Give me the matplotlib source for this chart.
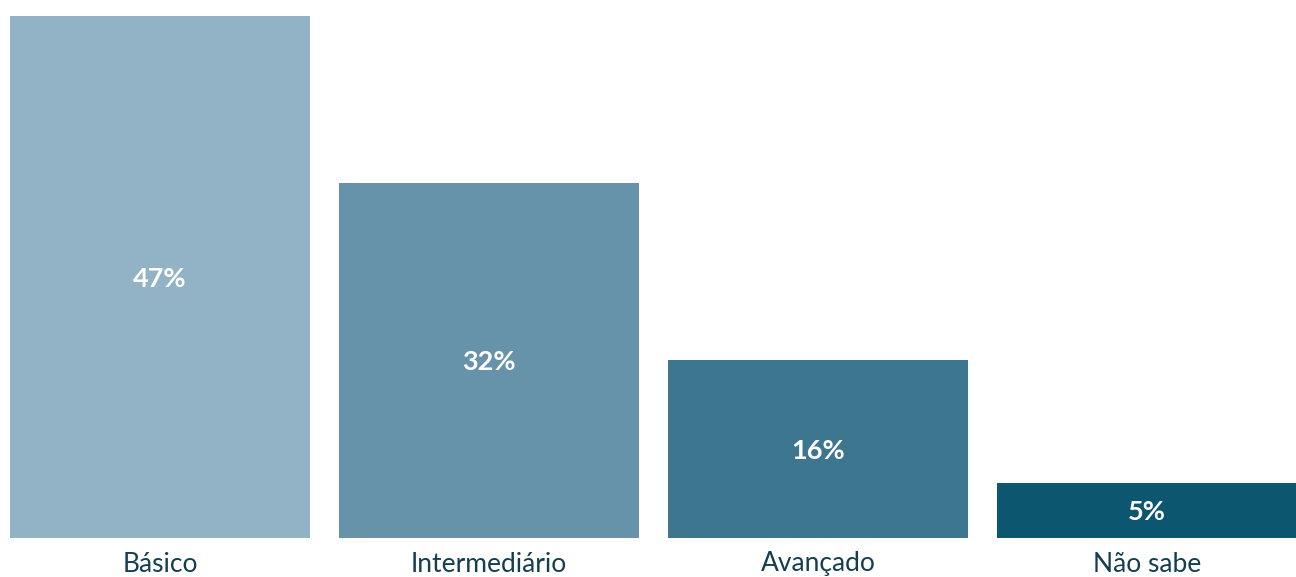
import matplotlib
matplotlib.use('Agg')
import matplotlib.pyplot as plt

# Dados do grafico
categorias = ['Básico', 'Intermediário', 'Avançado', 'Não sabe']
valores = [47, 32, 16, 5]
cores = ['#92B3C6', '#6693AA', '#3C768F', '#0C5670']

plt.rcParams['font.family'] = ['Lato', 'DejaVu Sans']

W, H = 1296, 577
fig = plt.figure(figsize=(W / 100, H / 100), dpi=100)
# eixo ocupa toda a largura, da linha de base (y=538 px) ate o topo
ax = fig.add_axes([0, 39 / H, 1, 538 / H])

px_por_ponto = 11.1   # pixels por ponto percentual
passo = 329           # distancia entre barras em pixels
centro0 = 160         # centro da primeira barra em pixels

x = list(range(len(categorias)))
ax.bar(x, valores, width=300 / passo, color=cores, linewidth=0)

ax.set_xlim(-centro0 / passo, (W - centro0) / passo)
ax.set_ylim(0, 538 / px_por_ponto)

for xi, v, cat in zip(x, valores, categorias):
    ax.text(xi, v / 2 - 2 / px_por_ponto, f'{v}%', ha='center', va='center',
            color='white', fontsize=19.5, fontweight='bold')
    ax.text(xi, -26 / px_por_ponto, cat, ha='center', va='center',
            color='#133F50', fontsize=19, clip_on=False)

ax.axis('off')
fig.savefig('out.png', dpi=100)
